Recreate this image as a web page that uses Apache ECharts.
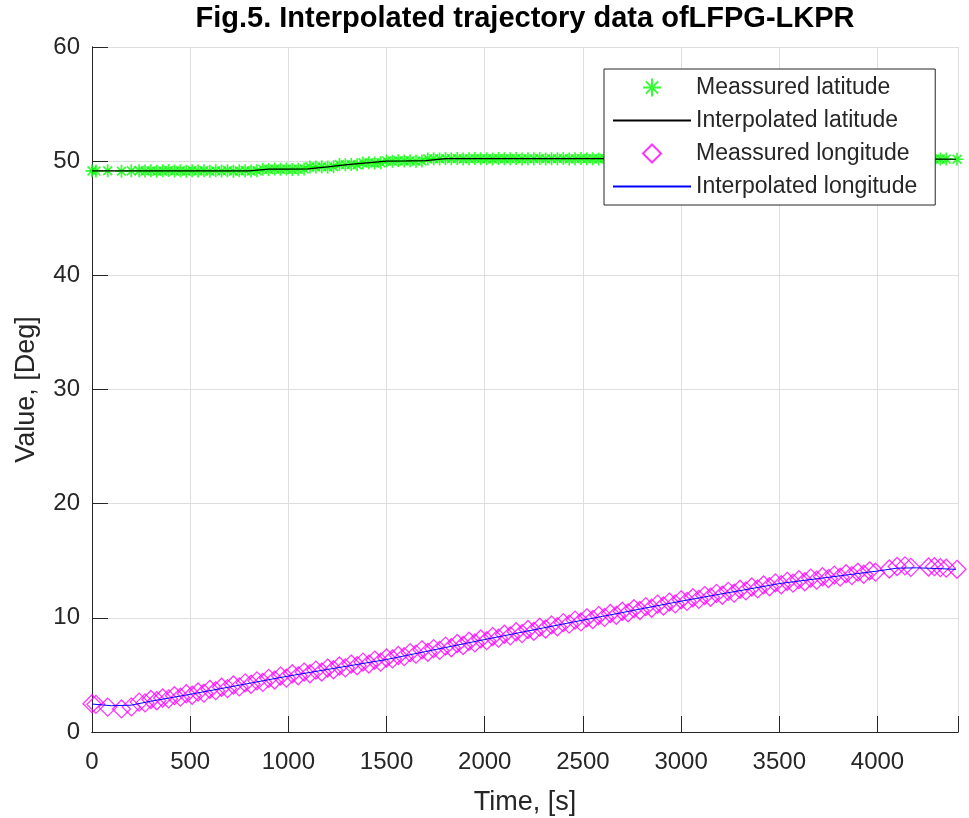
<!DOCTYPE html>
<html>
<head>
<meta charset="utf-8">
<script src="https://cdn.jsdelivr.net/npm/echarts@6/dist/echarts.min.js"></script>
<style>
  html, body { margin: 0; padding: 0; background: #fff; }
  #chart { width: 969px; height: 818px; }
</style>
</head>
<body>
<div id="chart"></div>
<script>
// measured samples (time in s)
var measTime = [0, 20, 80, 150, 200,
    240, 270, 300, 330, 360, 390, 420, 450, 480, 510,
    540, 570, 600, 630, 660, 690, 720, 750, 780, 810,
    840, 870, 900, 930, 960, 990, 1020, 1050, 1080, 1110,
    1140, 1170, 1200, 1230, 1260, 1290, 1320, 1350, 1380, 1410,
    1440, 1470, 1500, 1530, 1560, 1590, 1620, 1650, 1680, 1710,
    1740, 1770, 1800, 1830, 1860, 1890, 1920, 1950, 1980, 2010,
    2040, 2070, 2100, 2130, 2160, 2190, 2220, 2250, 2280, 2310,
    2340, 2370, 2400, 2430, 2460, 2490, 2520, 2550, 2580, 2610,
    2640, 2670, 2700, 2730, 2760, 2790, 2820, 2850, 2880, 2910,
    2940, 2970, 3000, 3030, 3060, 3090, 3120, 3150, 3180, 3210,
    3240, 3270, 3300, 3330, 3360, 3390, 3420, 3450, 3480, 3510,
    3540, 3570, 3600, 3630, 3660, 3690, 3720, 3750, 3780, 3810,
    3840, 3870, 3900, 3930, 3960, 3990,
    4060, 4100, 4140, 4170, 4260, 4290, 4320, 4350, 4405];

var measLat = [49.15, 49.13, 49.16, 49.12, 49.15,
    49.17, 49.13, 49.16, 49.12, 49.15, 49.18, 49.13, 49.16, 49.12, 49.17,
    49.14, 49.17, 49.12, 49.16, 49.13, 49.17, 49.12, 49.15, 49.17, 49.13,
    49.16, 49.30, 49.28, 49.31, 49.29, 49.32, 49.28, 49.30, 49.31, 49.50,
    49.48, 49.51, 49.49, 49.52, 49.70, 49.68, 49.71, 49.69, 49.85, 49.86,
    49.84, 49.87, 50.02, 50.00, 50.03, 50.01, 50.04, 50.00, 50.02, 50.20,
    50.22, 50.20, 50.23, 50.21, 50.24, 50.20, 50.22, 50.23, 50.21, 50.22,
    50.20, 50.23, 50.21, 50.22, 50.24, 50.20, 50.22, 50.21, 50.23, 50.20,
    50.22, 50.21, 50.23, 50.20, 50.22, 50.24, 50.21, 50.22, 50.20, 50.23,
    50.21, 50.22, 50.20, 50.23, 50.21, 50.22, 50.24, 50.20, 50.22, 50.21,
    50.23, 50.20, 50.22, 50.21, 50.23, 50.22, 50.20, 50.21, 50.23, 50.22,
    50.20, 50.22, 50.21, 50.23, 50.20, 50.22, 50.21, 50.20, 50.22, 50.21,
    50.22, 50.20, 50.21, 50.22, 50.20, 50.21, 50.22, 50.20, 50.21, 50.19,
    50.20, 50.18, 50.21, 50.19, 50.20, 50.18,
    50.20, 50.19, 50.20, 50.18, 50.19, 50.18, 50.19, 50.18, 50.17];

var measLon = [2.48, 2.42, 2.18, 2.02, 2.20,
    2.62, 2.55, 2.85, 2.74, 2.98, 2.90, 3.18, 3.05, 3.35, 3.22,
    3.50, 3.40, 3.74, 3.62, 3.92, 3.80, 4.12, 3.95, 4.30, 4.18,
    4.48, 4.35, 4.70, 4.55, 4.90, 4.72, 5.10, 4.92, 5.25, 5.10,
    5.42, 5.25, 5.60, 5.45, 5.78, 5.62, 5.95, 5.80, 6.12, 5.95,
    6.30, 6.12, 6.48, 6.40, 6.70, 6.60, 6.95, 6.82, 7.20, 6.98,
    7.30, 7.15, 7.52, 7.38, 7.75, 7.58, 7.95, 7.80, 8.15, 8.00,
    8.36, 8.22, 8.56, 8.42, 8.78, 8.62, 8.98, 8.82, 9.18, 9.02,
    9.38, 9.22, 9.58, 9.45, 9.80, 9.64, 10.00, 9.85, 10.20, 10.04,
    10.38, 10.22, 10.58, 10.44, 10.80, 10.64, 10.98, 10.84, 11.20, 11.04,
    11.38, 11.22, 11.58, 11.44, 11.76, 11.62, 11.95, 11.80, 12.14, 11.98,
    12.32, 12.16, 12.50, 12.36, 12.70, 12.54, 12.88, 12.72, 13.06, 12.90,
    13.20, 13.04, 13.34, 13.16, 13.48, 13.30, 13.60, 13.44, 13.74, 13.56,
    13.86, 13.70, 14.00, 13.82, 14.12, 14.00,
    14.28, 14.50, 14.55, 14.42, 14.45, 14.48, 14.40, 14.35, 14.25];

// interpolated curves
var interpTime = [0, 100, 200, 300, 400, 500, 600, 700, 800, 900,
    1000, 1100, 1200, 1300, 1400, 1500, 1600, 1700, 1800, 1900,
    2000, 2100, 2200, 2300, 2400, 2500, 2600, 2700, 2800, 2900,
    3000, 3100, 3200, 3300, 3400, 3500, 3600, 3700, 3800, 3900,
    4000, 4100, 4200, 4300, 4400];

var interpLat = [49.15, 49.15, 49.15, 49.15, 49.15, 49.15, 49.15, 49.15, 49.15, 49.30,
    49.30, 49.32, 49.50, 49.70, 49.85, 50.00, 50.02, 50.05, 50.22, 50.22,
    50.22, 50.22, 50.22, 50.22, 50.22, 50.22, 50.22, 50.22, 50.22, 50.22,
    50.21, 50.21, 50.21, 50.21, 50.21, 50.21, 50.21, 50.21, 50.20, 50.20,
    50.20, 50.19, 50.19, 50.18, 50.17];

var interpLon = [2.45, 2.30, 2.35, 2.70, 3.00, 3.30, 3.62, 3.94, 4.26, 4.58,
    4.90, 5.19, 5.48, 5.77, 6.06, 6.35, 6.70, 7.05, 7.40, 7.75,
    8.10, 8.44, 8.78, 9.12, 9.46, 9.80, 10.13, 10.46, 10.80, 11.13,
    11.46, 11.77, 12.08, 12.38, 12.69, 13.00, 13.22, 13.44, 13.66, 13.88,
    14.10, 14.35, 14.38, 14.32, 14.25];

var xTicks = { min: 0, max: 4410, interval: 500 };
var yTicks = { min: 0, max: 60, interval: 10 };

function pairs(xs, ys) {
    var out = [];
    for (var i = 0; i < xs.length; i++) out.push([xs[i], ys[i]]);
    return out;
}

var starPath = 'path://M5,0L5,10M0,5L10,5M1.6,1.6L8.4,8.4M1.6,8.4L8.4,1.6';
// diamond centred in an 78x18 box so the legend does not stretch it
var legendDiamond = 'path://M0,0M78,18M39,0L48,9L39,18L30,9Z';
var axisColor = '#262626';
var gridColor = '#dedede';
var font = 'Liberation Sans, Arial, sans-serif';

// box edge: line only
function edgeAxis(pos, t) {
    return {
        type: 'value', position: pos,
        min: t.min, max: t.max, interval: t.interval,
        axisLine: { show: true, lineStyle: { color: axisColor, width: 1 } },
        axisTick: { show: false },
        axisLabel: { show: false },
        splitLine: { show: false }
    };
}
// ticks drawn from an axis pulled 8px into the box, pointing back out
function tickAxis(pos, t) {
    return {
        type: 'value', position: pos, offset: -8,
        min: t.min, max: t.max, interval: t.interval,
        axisLine: { show: false },
        axisTick: { show: true, length: 8, lineStyle: { color: axisColor } },
        axisLabel: { show: false },
        splitLine: { show: false }
    };
}

var chart = echarts.init(document.getElementById('chart'));
chart.setOption({
    animation: false,
    textStyle: { fontFamily: font },
    title: {
        text: 'Fig.5. Interpolated trajectory data ofLFPG-LKPR',
        left: 525,
        top: 4,
        padding: 0,
        textAlign: 'center',
        textStyle: { fontFamily: font, fontSize: 29, fontWeight: 'bold', color: '#000' }
    },
    grid: { left: 92, right: 11, top: 47, bottom: 86, outerBoundsMode: 'none', containLabel: false },
    legend: {
        orient: 'vertical',
        left: 604,
        top: 69,
        padding: [7, 18, 7, 8],
        itemWidth: 78,
        itemHeight: 18,
        itemGap: 10,
        backgroundColor: '#fff',
        borderColor: axisColor,
        borderWidth: 1,
        textStyle: { fontFamily: font, fontSize: 23, color: axisColor },
        data: [
            { name: 'Meassured latitude' },
            { name: 'Interpolated latitude' },
            { name: 'Meassured longitude', icon: legendDiamond },
            { name: 'Interpolated longitude' }
        ]
    },
    xAxis: [{
        type: 'value',
        min: xTicks.min, max: xTicks.max, interval: xTicks.interval,
        name: 'Time, [s]',
        nameLocation: 'middle',
        nameGap: 57,
        nameTextStyle: { fontFamily: font, fontSize: 27, color: axisColor },
        axisLine: { lineStyle: { color: axisColor, width: 1 } },
        axisTick: { show: false },
        axisLabel: { fontSize: 24, color: axisColor, margin: 18, showMaxLabel: false,
            formatter: function (v) { return String(v); } },
        splitLine: { show: true, lineStyle: { color: gridColor, width: 1 } }
    },
    edgeAxis('top', xTicks),
    tickAxis('bottom', xTicks),
    tickAxis('top', xTicks)],
    yAxis: [{
        type: 'value',
        min: yTicks.min, max: yTicks.max, interval: yTicks.interval,
        name: 'Value, [Deg]',
        nameLocation: 'middle',
        nameGap: 52,
        nameTextStyle: { fontFamily: font, fontSize: 27, color: axisColor },
        axisLine: { show: true, lineStyle: { color: axisColor, width: 1 } },
        axisTick: { show: false },
        axisLabel: { fontSize: 24, color: axisColor, margin: 12 },
        splitLine: { show: true, lineStyle: { color: gridColor, width: 1 } }
    },
    edgeAxis('right', yTicks),
    tickAxis('left', yTicks),
    tickAxis('right', yTicks)],
    series: [{
        name: 'Meassured latitude',
        type: 'scatter',
        symbol: starPath,
        symbolSize: 13,
        clip: false,
        itemStyle: { color: 'rgba(0,0,0,0)', borderColor: '#00ff00', borderWidth: 1.7 },
        data: pairs(measTime, measLat)
    }, {
        name: 'Interpolated latitude',
        type: 'line',
        symbol: 'none',
        lineStyle: { color: '#000', width: 1.2 },
        itemStyle: { color: 'rgba(0,0,0,0)', borderWidth: 0 },
        data: pairs(interpTime, interpLat)
    }, {
        name: 'Meassured longitude',
        type: 'scatter',
        symbol: 'diamond',
        symbolSize: 18,
        clip: false,
        itemStyle: { color: 'rgba(0,0,0,0)', borderColor: '#ff00ff', borderWidth: 1.3 },
        data: pairs(measTime, measLon)
    }, {
        name: 'Interpolated longitude',
        type: 'line',
        symbol: 'none',
        lineStyle: { color: '#0000ff', width: 1 },
        itemStyle: { color: 'rgba(0,0,0,0)', borderWidth: 0 },
        data: pairs(interpTime, interpLon)
    }]
});
</script>
</body>
</html>
